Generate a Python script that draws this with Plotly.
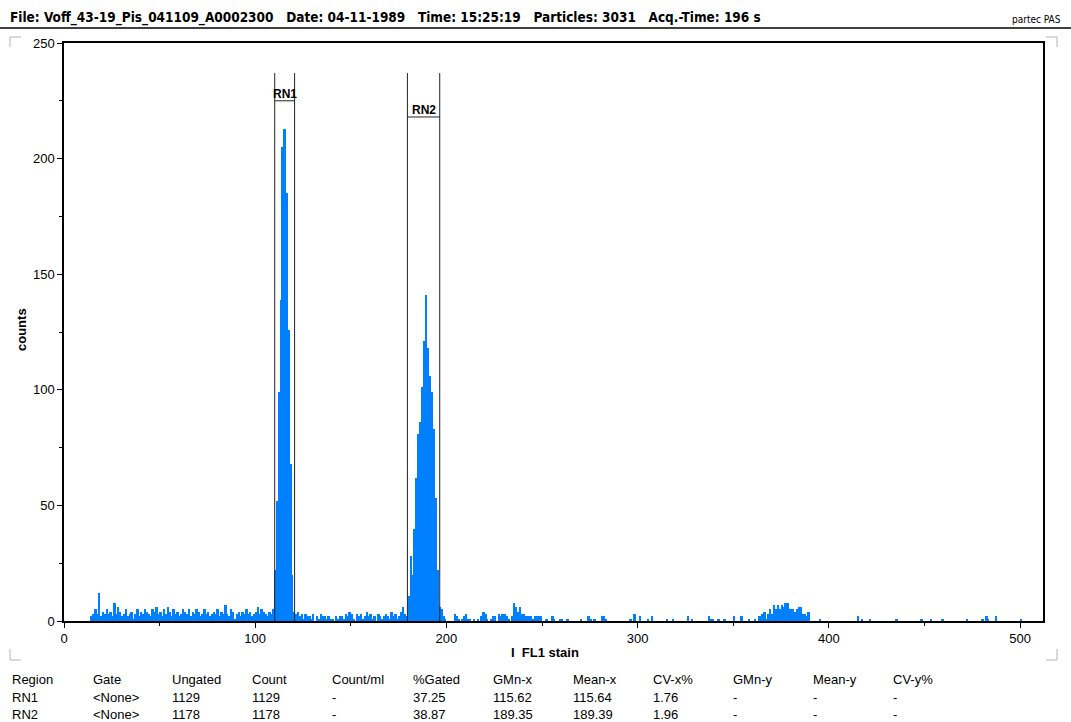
import plotly.graph_objects as go

# ---------------- data ----------------
# Histogram counts per FL1 channel (channel c occupies [c, c+1])
LEFT_START = 14
LEFT_COUNTS = [
    2, 3, 5, 3, 12, 2, 4, 3, 5, 3,
    4, 2, 8, 3, 6, 4, 2, 3, 5, 2,
    3, 4, 1, 3, 5, 2, 4, 3, 5, 4,
    3, 2, 5, 4, 6, 3, 4, 2, 5, 3,
    6, 4, 2, 5, 3, 4, 2, 3, 5, 4,
    3, 5, 2, 4, 3, 5, 4, 2, 3, 5,
    3, 4, 2, 3, 4, 3, 5, 2, 4, 3,
    7, 3, 2, 5, 4, 1, 3, 4, 2, 4,
    3, 5, 3, 4, 2, 3, 4, 6, 3, 5,
    4, 3, 2, 4, 3, 5,
]
RN1_START = 110
RN1_COUNTS = [22, 52, 99, 139, 205, 213, 185, 126, 68, 20, 4]
MID_START = 121
MID_COUNTS = [
    3, 4, 2, 3, 1, 3, 2, 2, 1, 3,
    0, 2, 1, 3, 2, 2, 1, 2, 1, 1,
    0, 2, 1, 2, 2, 1, 3, 2, 4, 3,
    1, 0, 3, 2, 3, 1, 2, 4, 2, 3,
    1, 2, 0, 3, 2, 1, 2, 3, 2, 1,
    4, 2, 3, 1, 2, 4, 6, 3, 2,
]
RN2_START = 180
RN2_COUNTS = [11, 28, 20, 40, 62, 81, 86, 101, 121, 141, 118, 106, 99, 83, 53, 22, 6]
TAIL_START = 197
TAIL_COUNTS = [
    5, 2, 1, 0, 0, 0, 0, 3, 2, 1,
    0, 1, 2, 3, 1, 1, 0, 1, 0, 1,
    0, 2, 4, 3, 1, 0, 1, 2, 2, 0,
    3, 2, 3, 3, 2, 1, 0, 2, 8, 6,
    4, 6, 3, 3, 2, 2, 2, 2, 1, 2,
    2, 2, 2, 0, 0,
]
SPARSE_CHANNELS = [252, 255, 256, 259, 260, 263, 270, 274, 275, 277, 281, 282, 283,
                   296, 298, 301, 305, 307, 315, 318, 326, 328, 337, 338, 339, 342,
                   345, 350, 354, 358]
SPARSE_COUNTS = [1, 2, 1, 1, 1, 1, 1, 2, 1, 1, 2, 2, 1,
                 1, 3, 2, 1, 2, 1, 1, 2, 1, 2, 1, 1, 1,
                 1, 2, 2, 1]
BUMP_START = 361
BUMP_COUNTS = [1, 0, 2, 2, 3, 4, 1, 3, 5, 3, 7, 5, 7, 5, 7, 6, 8, 8, 5, 5,
               5, 4, 5, 6, 6, 3, 3, 2, 4]
FAR_CHANNELS = [395, 415, 417, 421, 435, 448, 453, 459, 472, 480, 482, 483, 487, 500]
FAR_COUNTS = [1, 2, 1, 1, 1, 1, 1, 1, 1, 1, 2, 1, 2, 1]

# Regions: name, left, right, label bar level
REGION_NAMES = ["RN1", "RN2"]
REGION_LEFT = [110.2, 179.6]
REGION_RIGHT = [120.6, 196.5]
REGION_BAR = [225, 218]
REGION_TOP = 237

X_TICKS = [0, 100, 200, 300, 400, 500]
Y_TICKS = [0, 50, 100, 150, 200, 250]

TABLE_HEADER = ["Region", "Gate", "Ungated", "Count", "Count/ml", "%Gated",
                "GMn-x", "Mean-x", "CV-x%", "GMn-y", "Mean-y", "CV-y%"]
TABLE_RN1 = ["RN1", "<None>", "1129", "1129", "-", "37.25", "115.62", "115.64", "1.76", "-", "-", "-"]
TABLE_RN2 = ["RN2", "<None>", "1178", "1178", "-", "38.87", "189.35", "189.39", "1.96", "-", "-", "-"]

HEADER = ["File: Voff_43-19_Pis_041109_A0002300", "Date: 04-11-1989", "Time: 15:25:19",
          "Particles: 3031", "Acq.-Time: 196 s"]

# ---------------- layout geometry ----------------
W, H = 1071, 722
L, R, T, B = 64, 28, 43, 101
PW, PH = W - L - R, H - T - B


def px(xp):
    return (xp - L) / PW


def py(yp):
    return (H - B - yp) / PH


BLUE = "rgb(0,128,255)"
FONT = "Liberation Sans, Arial, sans-serif"
NARROW = "Liberation Sans Narrow, Arial Narrow, DejaVu Sans Condensed, sans-serif"

# ---------------- assemble channels ----------------
channels, counts = [], []


def add_run(start, values):
    for i, v in enumerate(values):
        channels.append(start + i)
        counts.append(v)


add_run(LEFT_START, LEFT_COUNTS)
add_run(RN1_START, RN1_COUNTS)
add_run(MID_START, MID_COUNTS)
add_run(RN2_START, RN2_COUNTS)
add_run(TAIL_START, TAIL_COUNTS)
for c, v in zip(SPARSE_CHANNELS, SPARSE_COUNTS):
    channels.append(c)
    counts.append(v)
add_run(BUMP_START, BUMP_COUNTS)
for c, v in zip(FAR_CHANNELS, FAR_COUNTS):
    channels.append(c)
    counts.append(v)

fig = go.Figure(go.Bar(
    x=[c + 0.5 for c in channels], y=counts, width=1,
    marker=dict(color=BLUE, line=dict(width=0)),
    hoverinfo="x+y",
))

shapes = []
annotations = []

# gate regions
for name, x0, x1, yb in zip(REGION_NAMES, REGION_LEFT, REGION_RIGHT, REGION_BAR):
    for xv in (x0, x1):
        shapes.append(dict(type="line", xref="x", yref="y", x0=xv, x1=xv, y0=0, y1=REGION_TOP,
                           line=dict(color="#222", width=1)))
    shapes.append(dict(type="line", xref="x", yref="y", x0=x0, x1=x1, y0=yb, y1=yb,
                       line=dict(color="#222", width=1)))
    annotations.append(dict(x=(x0 + x1) / 2, y=yb, xref="x", yref="y", text=name,
                            showarrow=False, yanchor="bottom", xanchor="center", yshift=-2,
                            font=dict(family=FONT, size=12, color="#000", weight=700)))

# header line and texts
shapes.append(dict(type="line", xref="paper", yref="paper", x0=px(0), x1=px(W),
                   y0=py(28), y1=py(28), line=dict(color="#000", width=1.5)))
annotations.append(dict(x=px(8), y=py(18), xref="paper", yref="paper",
                        text="\u00a0\u00a0\u00a0".join(HEADER),
                        showarrow=False, xanchor="left", yanchor="middle",
                        font=dict(family=NARROW, size=13.5, color="#000", weight=700)))
annotations.append(dict(x=px(1063), y=py(19), xref="paper", yref="paper", text="partec PAS",
                        showarrow=False, xanchor="right", yanchor="middle",
                        font=dict(family=NARROW, size=10, color="#000")))

# corner marks
corner = dict(color="#b4b4b4", width=1)
for path in [
    (10, 47, 10, 37, 21, 37),
    (1046, 37, 1057, 37, 1057, 47),
    (10, 649, 10, 660, 21, 660),
    (1046, 660, 1057, 660, 1057, 649),
]:
    xa, ya, xb, yb2, xc, yc = path
    d = "M{},{} L{},{} L{},{}".format(px(xa), py(ya), px(xb), py(yb2), px(xc), py(yc))
    shapes.append(dict(type="path", xref="paper", yref="paper", path=d, line=corner))

# axis titles
annotations.append(dict(x=px(22), y=py(330), xref="paper", yref="paper", text="counts",
                        textangle=-90, showarrow=False, xanchor="center", yanchor="middle",
                        font=dict(family=FONT, size=13, color="#000", weight=700)))
annotations.append(dict(x=px(545), y=py(652), xref="paper", yref="paper",
                        text="I\u00a0\u00a0FL1 stain",
                        showarrow=False, xanchor="center", yanchor="middle",
                        font=dict(family=FONT, size=13, color="#000", weight=700)))

# statistics table
col_x = [10, 91, 170, 250, 330, 411, 491, 571, 651, 731, 811, 891]
for row, ry in zip([TABLE_HEADER, TABLE_RN1, TABLE_RN2], [679, 697, 714]):
    for cell, cx in zip(row, col_x):
        annotations.append(dict(x=px(cx), y=py(ry), xref="paper", yref="paper",
                                text=cell.replace("<", "&lt;").replace(">", "&gt;"),
                                showarrow=False, xanchor="left", yanchor="middle",
                                font=dict(family=FONT, size=13, color="#000")))

fig.update_layout(
    width=W, height=H,
    margin=dict(l=L, r=R, t=T, b=B, pad=0),
    paper_bgcolor="white", plot_bgcolor="white",
    bargap=0, showlegend=False,
    shapes=shapes, annotations=annotations,
    xaxis=dict(range=[0, 512], tickvals=X_TICKS, ticks="outside", ticklen=5,
               tickcolor="#000", showline=True, linecolor="#000", linewidth=1.5,
               mirror=True, showgrid=False, zeroline=False,
               minor=dict(ticks="outside", tickvals=[50, 150, 250, 350, 450],
                          ticklen=3, tickcolor="#000", showgrid=False),
               tickfont=dict(family=FONT, size=13, color="#000")),
    yaxis=dict(range=[0, 250], tickvals=Y_TICKS, ticks="outside", ticklen=5,
               tickcolor="#000", showline=True, linecolor="#000", linewidth=1.5,
               mirror=True, showgrid=False, zeroline=False,
               minor=dict(ticks="outside", tickvals=[25, 75, 125, 175, 225],
                          ticklen=3, tickcolor="#000", showgrid=False),
               tickfont=dict(family=FONT, size=13, color="#000")),
)

fig.write_html("out.html")
